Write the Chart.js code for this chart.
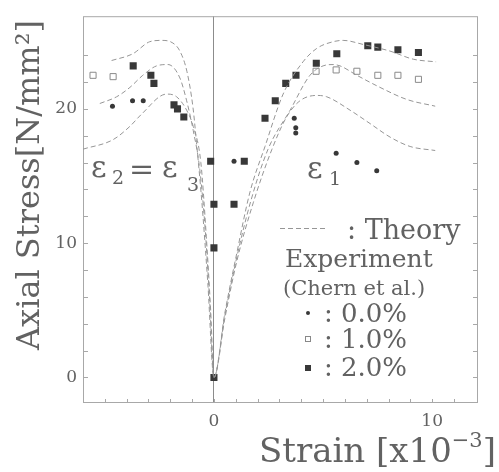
<!DOCTYPE html>
<html>
<head>
<meta charset="utf-8">
<script src="https://cdn.jsdelivr.net/npm/chart.js@4"></script>
<style>
  html, body { margin: 0; padding: 0; background: #fff; }
</style>
</head>
<body>
<canvas id="chart" width="499" height="472"></canvas>
<script>
// axis ranges and labelled ticks
const xRange = [-6.0, 12.1];
const yRange = [-1.9, 26.9];
const xTickLabels = [0, 10];
const yTickLabels = [0, 10, 20];

// theory curves (left branch = lateral strain, right branch = axial strain)
const theoryTopX = [-4.69, -3.72, -2.94, -2.39, -1.88, -1.56, -1.24, -0.96, -0.8, -0.55, -0.28, 0, 0.5, 1.04, 1.65, 2.34, 3.17, 4.08, 4.71, 5.46, 5.92, 6.83, 8.07, 9.13, 10.18];
const theoryTopY = [23.6, 24.1, 25.0, 25.1, 24.9, 24.3, 22.8, 20.1, 17.5, 13.0, 7.0, 0, 4.8, 9.2, 13.8, 17.2, 21.1, 23.5, 24.5, 25.0, 25.1, 24.8, 24.3, 23.7, 23.5];
const theoryMidX = [-5.23, -4.46, -3.85, -3.26, -2.63, -2.11, -1.56, -1.25, -0.95, -0.65, -0.4, -0.2, 0, 0.5, 1.04, 1.7, 2.48, 3.49, 4.40, 5.0, 5.46, 5.78, 6.55, 7.61, 8.84, 10.14];
const theoryMidY = [20.4, 20.9, 21.6, 22.5, 23.2, 23.3, 22.3, 20.6, 18.4, 15.5, 11.0, 5.8, 0, 4.6, 8.9, 13.2, 17.0, 19.9, 22.5, 23.2, 23.3, 23.2, 22.5, 21.6, 20.7, 20.2];
const theoryLowX = [-6.0, -4.63, -3.85, -3.32, -2.17, -1.71, -1.25, -0.95, -0.6, -0.35, -0.15, 0, 0.5, 1.04, 1.8, 2.66, 3.33, 3.94, 4.71, 5.17, 6.24, 7.16, 8.07, 8.99, 10.14];
const theoryLowY = [17.0, 17.7, 18.7, 19.6, 21.1, 20.9, 19.9, 18.7, 16.0, 10.5, 5.0, 0, 4.4, 8.6, 13.0, 17.0, 19.4, 20.6, 21.0, 20.9, 19.9, 18.9, 17.9, 17.2, 16.9];

// experiment (Chern et al.)
const exp00X = [-4.65, -3.73, -3.24, 0.92, 3.68, 3.75, 3.75, 5.6, 6.55, 7.46];
const exp00Y = [20.2, 20.6, 20.6, 16.1, 19.3, 18.6, 18.2, 16.7, 16.0, 15.4];
const exp10X = [-5.54, -4.62, 4.68, 5.60, 6.55, 7.51, 8.43, 9.37];
const exp10Y = [22.5, 22.4, 22.8, 22.9, 22.8, 22.5, 22.5, 22.2];
const exp20X = [-3.70, -2.89, -2.75, -1.83, -1.67, -1.38, -0.15, 0, 0.92, 1.39, 0, 0, 2.34, 2.81, 3.29, 3.76, 4.69, 5.63, 7.05, 7.51, 8.43, 9.37];
const exp20Y = [23.2, 22.5, 21.9, 20.3, 20.0, 19.4, 16.1, 12.9, 12.9, 16.1, 9.65, 0, 19.3, 20.6, 21.9, 22.5, 23.4, 24.1, 24.7, 24.6, 24.4, 24.2];

const SERIF = '"DejaVu Serif", serif';
const INK = '#626262';
const LINE = '#969696';
const DOT = '#383838';

function pts(xs, ys) {
  return xs.map((x, i) => ({ x: x, y: ys[i] }));
}

function theory(xs, ys) {
  return {
    data: pts(xs, ys),
    showLine: true,
    pointRadius: 0,
    borderColor: LINE,
    borderWidth: 1,
    borderDash: [5, 3],
    cubicInterpolationMode: 'monotone'
  };
}

/* frame + inward tick marks */
const framePlugin = {
  id: 'frame',
  beforeDatasetsDraw(chart) {
    const { ctx, chartArea: a, scales } = chart;
    ctx.save();
    ctx.strokeStyle = '#a8a8a8';
    ctx.lineWidth = 1;
    ctx.strokeRect(a.left + 0.5, a.top + 0.5, a.right - a.left - 1, a.bottom - a.top - 1);
    ctx.beginPath();
    scales.y.ticks.forEach(t => {
      if (t.value % 2 !== 0) return;
      const py = Math.round(scales.y.getPixelForValue(t.value)) + 0.5;
      ctx.moveTo(a.left, py); ctx.lineTo(a.left + 5, py);
      ctx.moveTo(a.right, py); ctx.lineTo(a.right - 5, py);
    });
    scales.x.ticks.forEach(t => {
      if (!Number.isInteger(t.value)) return;
      const px = Math.round(scales.x.getPixelForValue(t.value)) + 0.5;
      ctx.moveTo(px, a.bottom); ctx.lineTo(px, a.bottom - 4);
    });
    ctx.stroke();
    ctx.restore();
  },
  afterDraw(chart) {
    const ctx = chart.ctx;
    ctx.save();
    ctx.fillStyle = INK;
    ctx.textBaseline = 'alphabetic';
    ctx.textAlign = 'left';

    // strain labels
    ctx.font = '30px ' + SERIF;
    ctx.fillText('ε', 91, 177);
    ctx.fillText('=', 129, 179);
    ctx.fillText('ε', 162, 177);
    ctx.fillText('ε', 307, 178);
    ctx.font = '19px ' + SERIF;
    ctx.fillText('2', 112, 184);
    ctx.fillText('3', 187, 191);
    ctx.fillText('1', 329, 185);

    // legend
    ctx.strokeStyle = LINE;
    ctx.lineWidth = 1;
    ctx.setLineDash([5, 3]);
    ctx.beginPath();
    ctx.moveTo(280, 228.5); ctx.lineTo(328, 228.5);
    ctx.stroke();
    ctx.setLineDash([]);
    ctx.font = '27px ' + SERIF;
    ctx.fillText(': Theory', 347, 239);
    ctx.font = '25px ' + SERIF;
    ctx.fillText('Experiment', 285, 267);
    ctx.font = '21px ' + SERIF;
    ctx.fillText('(Chern et al.)', 283, 295);
    ctx.font = '26px ' + SERIF;
    ctx.fillText(': 0.0%', 324, 322);
    ctx.fillText(': 1.0%', 324, 348);
    ctx.fillText(': 2.0%', 324, 376);
    ctx.fillStyle = DOT;
    ctx.beginPath(); ctx.arc(308, 313, 2, 0, Math.PI * 2); ctx.fill();
    ctx.strokeStyle = '#888';
    ctx.strokeRect(305.5, 336.5, 5, 5);
    ctx.fillRect(305, 365, 6, 6);

    // axis titles
    ctx.fillStyle = INK;
    ctx.font = '32px ' + SERIF;
    ctx.save();
    ctx.translate(31, 185);
    ctx.rotate(-Math.PI / 2);
    ctx.textAlign = 'center';
    ctx.textBaseline = 'middle';
    ctx.fillText('Axial Stress[N/mm²]', 0, 0);
    ctx.restore();

    let x = 259;
    const base = 462;
    ctx.font = '34px ' + SERIF;
    const main = 'Strain [x10';
    ctx.fillText(main, x, base);
    x += ctx.measureText(main).width;
    ctx.font = '21px ' + SERIF;
    ctx.fillText('\u22123', x, base - 15);
    x += ctx.measureText('\u22123').width;
    ctx.font = '34px ' + SERIF;
    ctx.fillText(']', x, base);
    ctx.restore();
  }
};

new Chart(document.getElementById('chart'), {
  type: 'scatter',
  data: {
    datasets: [
      theory(theoryTopX, theoryTopY),
      theory(theoryMidX, theoryMidY),
      theory(theoryLowX, theoryLowY),
      { data: pts(exp00X, exp00Y), pointStyle: 'circle', pointRadius: 2.5, backgroundColor: DOT, borderColor: DOT, borderWidth: 0 },
      { data: pts(exp10X, exp10Y), pointStyle: 'rect', pointRadius: 4.3, backgroundColor: '#fff', borderColor: '#8a8a8a', borderWidth: 1 },
      { data: pts(exp20X, exp20Y), pointStyle: 'rect', pointRadius: 5, backgroundColor: DOT, borderColor: DOT, borderWidth: 0 }
    ]
  },
  options: {
    responsive: false,
    animation: false,
    layout: { padding: { top: 7, right: 21, left: 0, bottom: 0 } },
    plugins: { legend: { display: false }, tooltip: { enabled: false } },
    scales: {
      x: {
        type: 'linear', min: xRange[0], max: xRange[1],
        afterFit: s => { s.height = 69; },
        border: { display: false },
        grid: {
          drawTicks: false,
          color: c => (c.tick && c.tick.value === 0) ? '#8c8c8c' : 'rgba(0,0,0,0)'
        },
        ticks: {
          stepSize: 1, autoSkip: false, maxRotation: 0, padding: 8,
          color: INK, font: { family: SERIF, size: 17 },
          callback: v => xTickLabels.includes(v) ? String(v) : ''
        }
      },
      y: {
        type: 'linear', min: yRange[0], max: yRange[1],
        afterFit: s => { s.width = 83; },
        border: { display: false },
        grid: { display: false, drawTicks: false },
        ticks: {
          stepSize: 2, autoSkip: false, padding: 6,
          color: INK, font: { family: SERIF, size: 17 },
          callback: v => yTickLabels.includes(v) ? String(v) : ''
        }
      }
    }
  },
  plugins: [framePlugin]
});
</script>
</body>
</html>
